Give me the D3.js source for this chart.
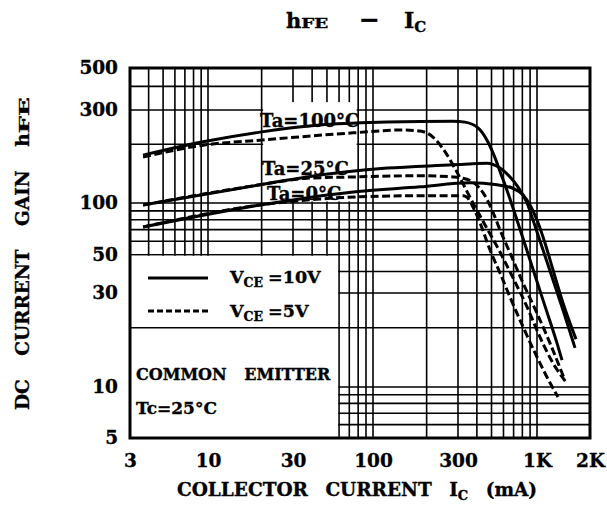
<!DOCTYPE html>
<html>
<head>
<meta charset="utf-8">
<script src="https://cdn.jsdelivr.net/npm/d3@7"></script>
<style>
  body { margin: 0; background: #fff; }
  text { font-family: "DejaVu Serif", serif; font-weight: bold; fill: #000; stroke: #000; stroke-width: 0.35px; }
</style>
</head>
<body>
<div id="chart"></div>
<script>
// axis ticks
var currentTicks = [3, 10, 30, 100, 300, 1000, 2000];
var currentLabels = ["3", "10", "30", "100", "300", "1K", "2K"];
var gainTicks = [5, 10, 30, 50, 100, 300, 500];

// grid lines of the log paper
var gridCurrent = [4, 5, 6, 7, 8, 9, 10, 20, 30, 40, 50, 60, 70, 80, 90, 100,
    200, 300, 400, 500, 600, 700, 800, 900, 1000];
var gridGain = [6, 7, 8, 9, 10, 20, 30, 40, 50, 60, 70, 80, 90, 100, 200, 300, 400];

// curves [Ic (mA), hFE]
var ta100Vce10 = [[3.67, 176], [9.26, 206], [19.6, 231], [45, 251], [120, 260], [281, 263],
    [334, 260], [407, 243], [467, 210], [519, 176], [587, 136], [614, 124], [737, 79.7],
    [899, 46.7], [1082, 27.6], [1299, 16.7], [1387, 13.7]];
var ta100Vce5 = [[3.67, 172], [9.26, 198], [19.6, 210], [74, 229], [147, 237], [184, 234],
    [217, 218], [254, 183], [296, 144], [360, 107], [453, 74.5], [569, 51.9], [694, 36.7],
    [859, 25.5], [1040, 17.9], [1233, 13.2], [1461, 10.6]];
var ta25Vce10 = [[3.67, 97.4], [19.6, 124], [37, 136], [120, 151], [281, 157], [377, 159],
    [467, 160], [569, 151], [663, 136], [748, 121], [859, 100], [941, 79.7], [1082, 53.3],
    [1233, 35.7], [1405, 24.6], [1644, 15.8]];
var ta25Vce5 = [[3.67, 97.4], [19.6, 124], [37, 134], [74, 136], [184, 138], [281, 136],
    [324, 134], [377, 128], [439, 113], [504, 91], [569, 69.7], [663, 51.2], [808, 34.3],
    [1000, 23.7], [1185, 16.7], [1424, 11.1]];
var ta0Vce10 = [[3.67, 72.5], [19.6, 97.4], [67.6, 113], [184, 121], [360, 127], [544, 124],
    [694, 119], [808, 110], [899, 97.4], [1000, 79.7], [1110, 58.6], [1233, 40.8],
    [1405, 26.7], [1665, 17.5]];
var ta0Vce5 = [[3.67, 72.5], [19.6, 97.4], [45, 104.8], [67.6, 107], [184, 109], [324, 109],
    [344, 107], [377, 94.8], [420, 76.5], [489, 53.3], [569, 39.2], [663, 28.6], [808, 20.2],
    [1000, 14.2], [1185, 10.5], [1316, 8.73]];

var width = 607;
var height = 515;

var svg = d3.select("#chart")
    .append("svg")
    .attr("width", width)
    .attr("height", height);

// the scanned log paper is a little uneven, so the scales are piecewise
var x = d3.scaleLog()
    .domain([3, 10, 30, 100, 300, 1000, 2000])
    .range([130, 208, 293, 373, 458, 537, 590]);

var y = d3.scaleLog()
    .domain([5, 10, 30, 100, 300, 500])
    .range([438, 387, 293, 203, 110, 68]);

var x0 = x(3), x1 = x(2000), y0 = y(5), y1 = y(500);

// grid
var grid = svg.append("g")
    .attr("stroke", "#000")
    .attr("stroke-width", 1.6);

grid.selectAll(".vx")
    .data(gridCurrent)
    .enter()
    .append("line")
    .attr("x1", d => x(d)).attr("x2", d => x(d))
    .attr("y1", y1).attr("y2", y0);

grid.selectAll(".hy")
    .data(gridGain)
    .enter()
    .append("line")
    .attr("y1", d => y(d)).attr("y2", d => y(d))
    .attr("x1", x0).attr("x2", x1);

// blank patch behind the Ta labels
svg.append("rect")
    .attr("x", x(20) + 1.5)
    .attr("y", y(330))
    .attr("width", x(80) - x(20) - 3)
    .attr("height", y(100) - y(330) - 1.5)
    .attr("fill", "#fff");

// legend box (cleared part of the grid)
svg.append("rect")
    .attr("x", x0)
    .attr("y", y(50) + 1)
    .attr("width", x(60) - x0 - 1)
    .attr("height", y0 - y(50) - 1)
    .attr("fill", "#fff");

svg.append("line")
    .attr("x1", x0).attr("x2", x(60))
    .attr("y1", y(20)).attr("y2", y(20))
    .attr("stroke", "#000")
    .attr("stroke-width", 1.6);

// curves
var line = d3.line()
    .x(d => x(d[0]))
    .y(d => y(d[1]))
    .curve(d3.curveMonotoneX);

var curves = [
    { data: ta100Vce5, dash: true },
    { data: ta25Vce5, dash: true },
    { data: ta0Vce5, dash: true },
    { data: ta100Vce10, dash: false },
    { data: ta25Vce10, dash: false },
    { data: ta0Vce10, dash: false }
];

svg.append("g")
    .selectAll("path")
    .data(curves)
    .enter()
    .append("path")
    .attr("d", d => line(d.data))
    .attr("fill", "none")
    .attr("stroke", "#000")
    .attr("stroke-width", 3)
    .attr("stroke-dasharray", d => d.dash ? "8,3.5" : null);

// frame
svg.append("rect")
    .attr("x", x0)
    .attr("y", y1)
    .attr("width", x1 - x0)
    .attr("height", y0 - y1)
    .attr("fill", "none")
    .attr("stroke", "#000")
    .attr("stroke-width", 3);

// axes
svg.append("g")
    .attr("transform", `translate(0, ${y0})`)
    .call(d3.axisBottom(x)
        .tickValues(currentTicks)
        .tickFormat((d, i) => currentLabels[i])
        .tickSize(0)
        .tickPadding(16));

svg.append("g")
    .attr("transform", `translate(${x0}, 0)`)
    .call(d3.axisLeft(y)
        .tickValues(gainTicks)
        .tickFormat(d3.format("d"))
        .tickSize(0)
        .tickPadding(12));

svg.selectAll(".domain").remove();
svg.selectAll(".tick text")
    .attr("font-family", "DejaVu Serif, serif")
    .attr("font-weight", "bold")
    .attr("font-size", 18.5)
    .attr("fill", "#000");

// title
var title = svg.append("text")
    .attr("x", 286)
    .attr("y", 28)
    .attr("font-size", 21);
title.append("tspan").text("h");
title.append("tspan").attr("font-size", 13).attr("textLength", 27).attr("lengthAdjust", "spacingAndGlyphs").text("FE");
title.append("tspan").attr("x", 359).attr("font-size", 25).text("\u2212");
title.append("tspan").attr("x", 404).attr("font-size", 22).text("I");
title.append("tspan").attr("font-size", 15).attr("dy", 4).text("C");

// x axis title
var xTitle = svg.append("text")
    .attr("x", 177)
    .attr("y", 496)
    .attr("font-size", 18.5)
    .attr("word-spacing", 11);
xTitle.append("tspan").text("COLLECTOR CURRENT I");
xTitle.append("tspan").attr("font-size", 13).attr("dy", 4).text("C");
xTitle.append("tspan").attr("dy", -4).text(" (mA)");

// y axis title
var yTitle = svg.append("text")
    .attr("transform", "translate(29, 410) rotate(-90)")
    .attr("font-size", 18.5)
    .attr("word-spacing", 17);
yTitle.append("tspan").text("DC CURRENT GAIN h");
yTitle.append("tspan").attr("font-size", 13).attr("textLength", 36).attr("lengthAdjust", "spacingAndGlyphs").text("FE");

// Ta labels
var taLabels = [
    { t: "Ta=100\u00b0C", x: 260, y: 127 },
    { t: "Ta=25\u00b0C", x: 262, y: 175 },
    { t: "Ta=0\u00b0C", x: 267, y: 200 }
];
svg.selectAll(".ta")
    .data(taLabels)
    .enter()
    .append("text")
    .attr("x", d => d.x)
    .attr("y", d => d.y)
    .attr("font-size", 18)
    .text(d => d.t);

// legend
svg.append("line")
    .attr("x1", 148).attr("x2", 208)
    .attr("y1", 278).attr("y2", 278)
    .attr("stroke", "#000").attr("stroke-width", 3);
svg.append("line")
    .attr("x1", 148).attr("x2", 208)
    .attr("y1", 311).attr("y2", 311)
    .attr("stroke", "#000").attr("stroke-width", 3)
    .attr("stroke-dasharray", "6,3");

[["=10V", 283], ["=5V", 317]].forEach(function (l) {
    var t = svg.append("text").attr("x", 230).attr("y", l[1]).attr("font-size", 17.5);
    t.append("tspan").text("V");
    t.append("tspan").attr("font-size", 12.5).attr("dy", 4).text("CE");
    t.append("tspan").attr("dy", -4).attr("dx", 5).text(l[0]);
});

svg.append("text")
    .attr("x", 136).attr("y", 380)
    .attr("font-size", 16)
    .attr("word-spacing", 12)
    .text("COMMON EMITTER");
svg.append("text")
    .attr("x", 136).attr("y", 414)
    .attr("font-size", 17)
    .text("Tc=25\u00b0C");
</script>
</body>
</html>
